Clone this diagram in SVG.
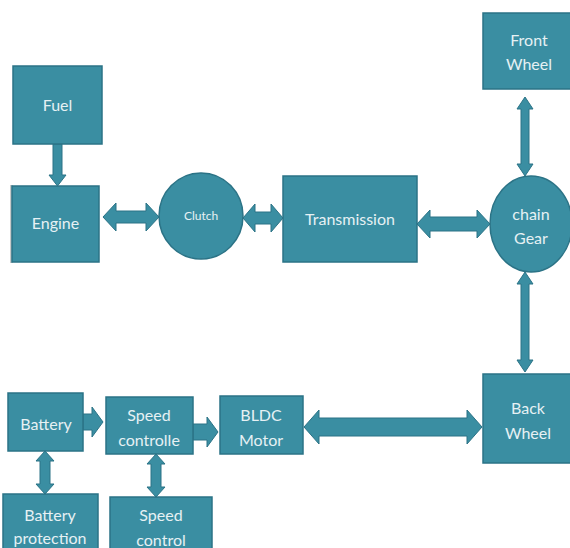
<svg xmlns="http://www.w3.org/2000/svg" width="570" height="548" viewBox="0 0 570 548">
<style>
.n{fill:#3a8ea2;stroke:#2b7386;stroke-width:1.5}
.a{fill:#3a8ea2;stroke:#2b7386;stroke-width:1}
.t{font-family:Lato,"Open Sans",sans-serif;font-size:16px;fill:#e6f1f4;text-anchor:middle}
.s{font-size:12px}
</style>
<rect width="570" height="548" fill="#ffffff"/>
<g id="connectors">
<polygon class="a" points="53,144 62,144 62,175 66,175 57.5,186 49,175 53,175"/>
<polygon class="a" points="103,217 116,203 116,211 146,211 146,203 159,217 146,231 146,223 116,223 116,231"/>
<polygon class="a" points="243,218 255,204 255,212 271,212 271,204 283,218 271,232 271,224 255,224 255,232"/>
<polygon class="a" points="417,224 430,210 430,217 477,217 477,210 490,224 477,238 477,231 430,231 430,238"/>
<polygon class="a" points="525,97 533,109 529,109 529,164 533,164 525,176 517,164 521,164 521,109 517,109"/>
<polygon class="a" points="525,272 533,284 529,284 529,360 533,360 525,372 517,360 521,360 521,284 517,284"/>
<polygon class="a" points="304,427 319,410 319,418 467,418 467,410 482,427 467,444 467,436 319,436 319,444"/>
<polygon class="a" points="83,414 92,414 92,407 103,422 92,437 92,430 83,430"/>
<polygon class="a" points="193,424 207,424 207,417 218,432 207,447 207,440 193,440"/>
<polygon class="a" points="45,451 54,461 50,461 50,484 54,484 45,494 36,484 40,484 40,461 36,461"/>
<polygon class="a" points="156,454 165,464 161,464 161,487 165,487 156,497 147,487 151,487 151,464 147,464"/>
</g>
<g id="fuel"><rect class="n" x="13" y="66" width="89" height="78"/><text class="t" x="57.5" y="111">Fuel</text></g>
<g id="engine"><rect x="10" y="185" width="3" height="78" fill="#c8c8c8"/><rect class="n" x="12" y="186" width="87" height="76"/><text class="t" x="55.5" y="229">Engine</text></g>
<g id="clutch"><ellipse class="n" cx="201" cy="216" rx="42" ry="43"/><text class="t s" x="201" y="220">Clutch</text></g>
<g id="transmission"><rect class="n" x="283" y="176" width="134" height="86"/><text class="t" x="350" y="225">Transmission</text></g>
<g id="chain-gear"><ellipse class="n" cx="531" cy="224" rx="41" ry="48"/><text class="t" x="531" y="220">chain</text><text class="t" x="531" y="244">Gear</text></g>
<g id="front-wheel"><rect class="n" x="483" y="13" width="90" height="76"/><text class="t" x="529" y="46">Front</text><text class="t" x="529" y="70">Wheel</text></g>
<g id="back-wheel"><rect class="n" x="483" y="374" width="90" height="89"/><text class="t" x="528" y="414">Back</text><text class="t" x="528" y="439">Wheel</text></g>
<g id="battery"><rect class="n" x="8" y="393" width="75" height="58"/><text class="t" x="46" y="430">Battery</text></g>
<g id="speed-controlle"><rect class="n" x="106" y="397" width="87" height="57"/><text class="t" x="149" y="421">Speed</text><text class="t" x="149" y="446">controlle</text></g>
<g id="bldc-motor"><rect class="n" x="220" y="396" width="83" height="58"/><text class="t" x="261" y="421">BLDC</text><text class="t" x="261" y="446">Motor</text></g>
<g id="battery-protection"><rect class="n" x="3" y="494" width="95" height="60"/><text class="t" x="50" y="521">Battery</text><text class="t" x="50" y="544">protection</text></g>
<g id="speed-control"><rect class="n" x="110" y="497" width="102" height="57"/><text class="t" x="161" y="521">Speed</text><text class="t" x="161" y="546">control</text></g>
</svg>
